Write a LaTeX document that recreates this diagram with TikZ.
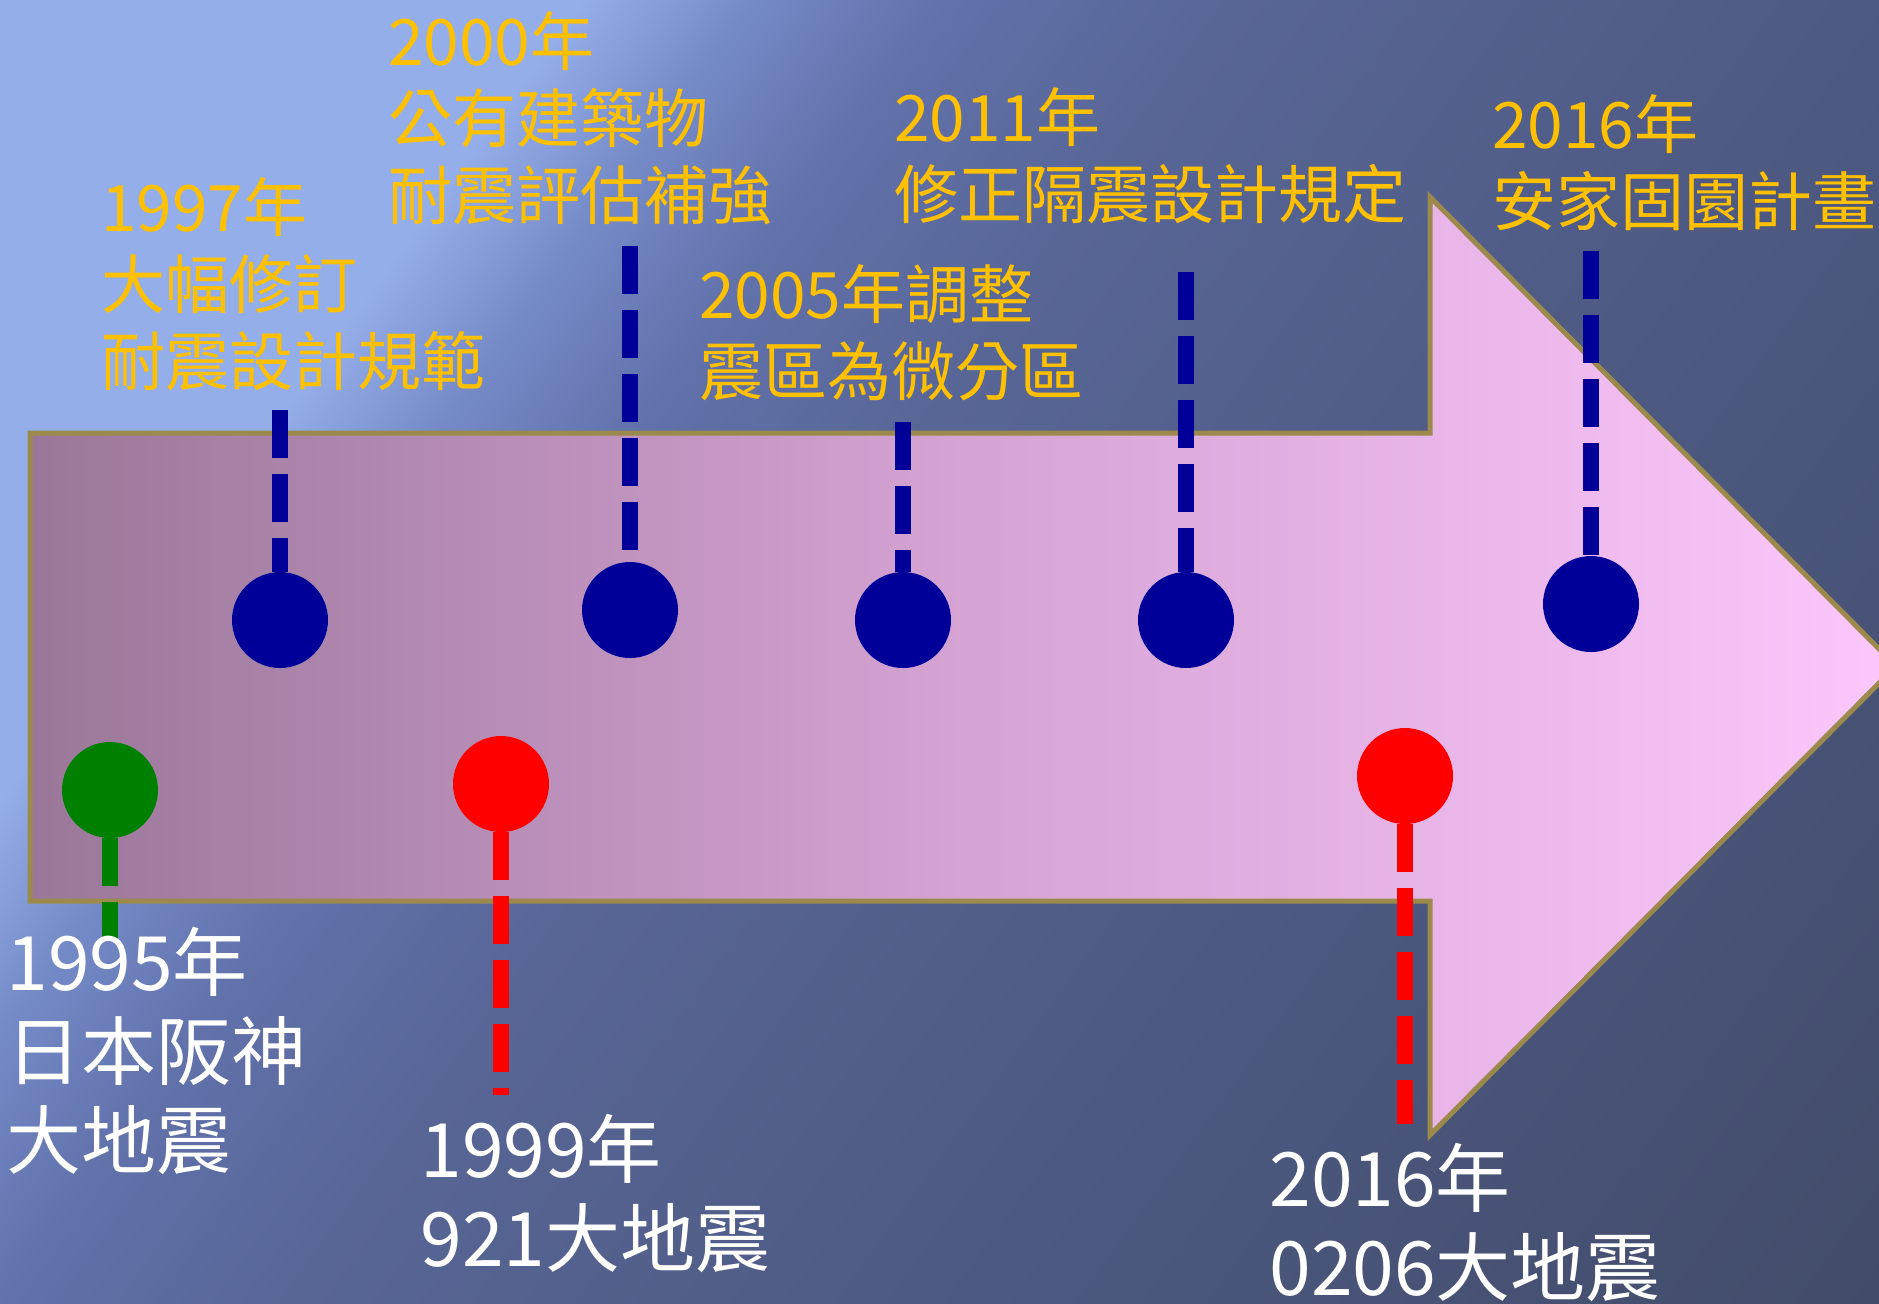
\documentclass[tikz,border=0pt]{standalone}
\usepackage{fontspec}
\setmainfont{Noto Sans CJK TC}
\definecolor{bg0}{RGB}{148,174,234}
\definecolor{bg1}{RGB}{116,138,199}
\definecolor{bg2}{RGB}{97,113,170}
\definecolor{bg3}{RGB}{88,102,150}
\definecolor{bg4}{RGB}{78,90,131}
\definecolor{bg5}{RGB}{66,75,105}
\definecolor{af0}{RGB}{154,119,153}
\definecolor{af1}{RGB}{213,163,212}
\definecolor{af2}{RGB}{252,199,252}
\definecolor{arrowline}{RGB}{156,138,76}
\definecolor{dotblue}{RGB}{0,0,153}
\definecolor{dotred}{RGB}{255,0,0}
\definecolor{dotgreen}{RGB}{0,128,0}
\definecolor{labelyellow}{RGB}{255,192,0}
\pgfdeclarehorizontalshading{bgshade}{100bp}{color(0bp)=(bg0); color(35.4bp)=(bg0); color(38.4bp)=(bg1); color(41.9bp)=(bg2); color(46.9bp)=(bg3); color(57.8bp)=(bg4); color(75bp)=(bg5); color(100bp)=(bg5)}
\pgfdeclarehorizontalshading{arrowfill}{100bp}{color(0bp)=(af0); color(25bp)=(af0); color(50bp)=(af1); color(75bp)=(af2); color(100bp)=(af2)}
\tikzset{
  dot/.style={circle, minimum size=48pt, inner sep=0pt},
  stem/.style={line width=8pt, dash pattern=on 24pt off 8pt},
  ylabel/.style={anchor=base west, inner sep=0pt, align=left, text=labelyellow, font=\fontsize{32pt}{38.5pt}\selectfont},
  wlabel/.style={anchor=base west, inner sep=0pt, align=left, text=white, font=\fontsize{37.5pt}{44.5pt}\selectfont}
}
\begin{document}
\begin{tikzpicture}[x=0.5pt,y=-0.5pt]
\useasboundingbox (0,0) rectangle (1879,1303);
\begin{scope}
\clip (0,0) rectangle (1879,1303);
\shade[shading=bgshade, shading angle=-36] (-210.5,-498.5) rectangle (2089.5,1801.5);
\shadedraw[shading=arrowfill, draw=arrowline, line width=2.5pt, line join=miter]
  (30,433) -- (1430,433) -- (1430,197) -- (1896,666) -- (1430,1135) -- (1430,901) -- (30,901) -- cycle;

% dots
\node[dot, fill=dotblue] (b1) at (280,620) {};
\node[dot, fill=dotblue] (b2) at (630,610) {};
\node[dot, fill=dotblue] (b3) at (903,620) {};
\node[dot, fill=dotblue] (b4) at (1186,620) {};
\node[dot, fill=dotblue] (b5) at (1591,604) {};
\node[dot, fill=dotgreen] (g1) at (110,790) {};
\node[dot, fill=dotred] (r1) at (501,784) {};
\node[dot, fill=dotred] (r2) at (1405,776) {};

% stem ends
\coordinate (b1t) at (280,410);
\coordinate (b2t) at (630,246);
\coordinate (b3t) at (903,422);
\coordinate (b4t) at (1186,272);
\coordinate (b5t) at (1591,251);
\coordinate (g1e) at (110,938);
\coordinate (r1e) at (501,1095);
\coordinate (r2e) at (1405,1124);

\draw[stem, draw=dotblue] (b1t) -- (b1);
\draw[stem, draw=dotblue] (b2t) -- (b2);
\draw[stem, draw=dotblue] (b3t) -- (b3);
\draw[stem, draw=dotblue] (b4t) -- (b4);
\draw[stem, draw=dotblue] (b5t) -- (b5);
\draw[stem, draw=dotgreen] (g1) -- (g1e);
\draw[stem, draw=dotred] (r1) -- (r1e);
\draw[stem, draw=dotred] (r2) -- (r2e);

% labels (anchor = baseline of the last line)
\node[ylabel] (t1997) at (101,385) {1997年\\大幅修訂\\耐震設計規範};
\node[ylabel] (t2000) at (388,219) {2000年\\公有建築物\\耐震評估補強};
\node[ylabel] (t2005) at (699,395) {2005年調整\\震區為微分區};
\node[ylabel] (t2011) at (894,218) {2011年\\修正隔震設計規定};
\node[ylabel] (t2016) at (1492,225) {2016年\\安家固園計畫};
\node[wlabel] (w1995) at (6,1168) {1995年\\日本阪神\\大地震};
\node[wlabel] (w1999) at (420,1266) {1999年\\921大地震};
\node[wlabel] (w2016) at (1269,1295) {2016年\\0206大地震};
\end{scope}
\end{tikzpicture}
\end{document}
